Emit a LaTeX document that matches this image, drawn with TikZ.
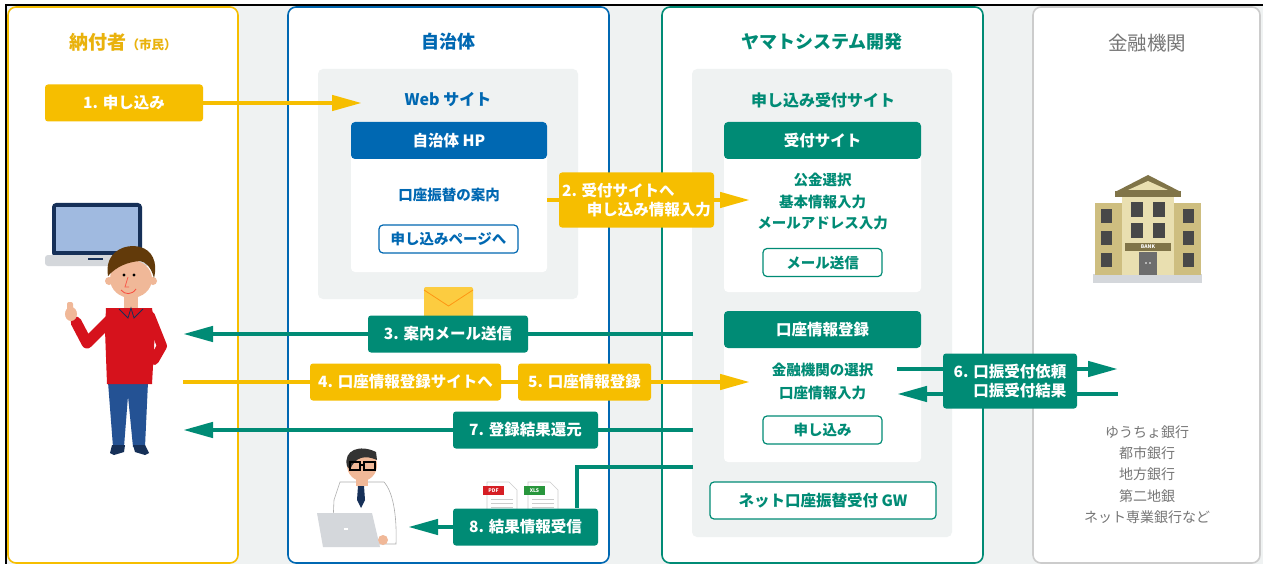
\documentclass[tikz,border=0pt]{standalone}
\usepackage{fontspec}
\setmainfont{Noto Sans CJK JP}
\usetikzlibrary{arrows.meta}

\definecolor{cyellow}{RGB}{246,190,0}
\definecolor{cyeltext}{RGB}{233,178,12}
\definecolor{cblue}{RGB}{0,104,178}
\definecolor{cgreen}{RGB}{0,139,117}
\definecolor{cpanel}{RGB}{239,242,242}
\definecolor{cgrey}{RGB}{118,118,118}
\definecolor{cline}{RGB}{204,204,204}
\definecolor{skin}{RGB}{240,184,152}
\definecolor{hair}{RGB}{98,58,10}
\definecolor{shirt}{RGB}{214,18,28}
\definecolor{jeans}{RGB}{36,82,148}
\definecolor{navy}{RGB}{22,48,88}
\definecolor{screen}{RGB}{160,186,224}
\definecolor{silver}{RGB}{212,215,219}
\definecolor{olive}{RGB}{128,116,72}
\definecolor{cream}{RGB}{233,223,176}
\definecolor{tan}{RGB}{206,190,128}
\definecolor{window}{RGB}{72,72,72}
\definecolor{pdfred}{RGB}{214,30,36}
\definecolor{xlsgreen}{RGB}{40,150,60}
\definecolor{mailyel}{RGB}{252,204,64}

\newcommand{\fsz}[2]{\fontsize{#1}{#2}\selectfont}

\tikzset{
  lane/.style={fill=white, rounded corners=8pt, line width=1.6pt},
  panel/.style={fill=cpanel, rounded corners=5pt},
  coltitle/.style={font=\bfseries\fsz{18}{22}},
  card/.style={fill=white, rounded corners=4pt, inner sep=0pt},
  cardhead/.style={text=white, font=\bfseries\fsz{15.5}{19}, inner sep=0pt, minimum height=37pt, rounded corners=4pt, anchor=north},
  itemtext/.style={font=\bfseries\fsz{14.5}{21.5}, align=center},
  btn/.style={fill=white, rounded corners=4pt, line width=1.2pt, font=\bfseries\fsz{14.5}{18}, inner sep=0pt, minimum height=28pt},
  ybox/.style={fill=cyellow, text=white, rounded corners=3pt, font=\bfseries\fsz{15.5}{19}, inner sep=0pt, minimum height=37pt},
  gbox/.style={ybox, fill=cgreen},
  yflow/.style={draw=cyellow, line width=4.5pt},
  gflow/.style={draw=cgreen, line width=4.5pt},
  arr/.style={-{Triangle[length=30pt,width=15pt]}},
}

\begin{document}
\begin{tikzpicture}[x=1pt,y=-1pt]
\useasboundingbox (0,0) rectangle (1263,564);
\fill[white] (0,0) rectangle (1263,564);
\fill[cpanel] (6,5) rectangle (1263,564);
\draw[black, line width=1.5pt] (6,564) -- (6,5) -- (1263,5);

% the four lanes
\draw[lane, draw=cyellow] (8,7) rectangle (238,563);
\draw[lane, draw=cblue] (288,7) rectangle (609,563);
\draw[lane, draw=cgreen] (662,7) rectangle (983,563);
\draw[lane, draw=cline] (1033,7) rectangle (1260,563);

\node[coltitle, text=cyeltext, font=\bfseries\fsz{19}{22}] (tcitizen) at (123,42) {納付者{\fsz{12.5}{14}（市民）}};
\node[coltitle, text=cblue] (tcity) at (448,42) {自治体};
\node[coltitle, text=cgreen] (tyamato) at (822,42) {ヤマトシステム開発};
\node[font=\fsz{19.5}{22}, text=cgrey] (tbank) at (1147,43) {金融機関};

% web site of the city
\path[panel] (318,69) rectangle (578,299);
\node[font=\bfseries\fsz{16}{20}, text=cblue] (website) at (448,99) {Web サイト};
\node[card, minimum width=196pt, minimum height=150pt] (hp) at (449,197) {};
\node[cardhead, fill=cblue, minimum width=196pt] (hphead) at (hp.north) {自治体 HP};
\node[itemtext, text=cblue] (guide) at (449,195) {口座振替の案内};
\node[btn, draw=cblue, text=cblue, minimum width=139pt] (hpbtn) at (448.5,239) {申し込みページへ};

% application site
\path[panel] (692,69) rectangle (952,537);
\node[font=\bfseries\fsz{16}{20}, text=cgreen] (apply) at (823,100) {申し込み受付サイト};
\node[card, minimum width=197pt, minimum height=170pt] (recv) at (822.5,207) {};
\node[cardhead, fill=cgreen, minimum width=197pt] (recvhead) at (recv.north) {受付サイト};
\node[itemtext, text=cgreen] (recvitems) at (822.5,202) {公金選択\\基本情報入力\\メールアドレス入力};
\node[btn, draw=cgreen, text=cgreen, minimum width=119pt] (mailbtn) at (822.5,262.5) {メール送信};
\node[card, minimum width=197pt, minimum height=151pt] (acct) at (822.5,386.5) {};
\node[cardhead, fill=cgreen, minimum width=197pt] (accthead) at (acct.north) {口座情報登録};
\node[itemtext, text=cgreen, font=\bfseries\fsz{14.5}{23}] (acctitems) at (822.5,381.5) {金融機関の選択\\口座情報入力};
\node[btn, draw=cgreen, text=cgreen, minimum width=119pt] (applybtn) at (822.5,430) {申し込み};
\node[btn, draw=cgreen, text=cgreen, minimum width=226pt, minimum height=37pt, font=\bfseries\fsz{15.5}{19}] (gw) at (823,500.5) {ネット口座振替受付 GW};

% banks
\node[font=\fsz{14}{21.2}, text=cgrey, align=center] (banks) at (1147,474.5) {ゆうちょ銀行\\都市銀行\\地方銀行\\第二地銀\\ネット専業銀行など};

% citizen with laptop
\fill[navy, rounded corners=4pt] (52,203) rectangle (142,257);
\fill[screen] (56,207) rectangle (138,251);
\fill[silver, rounded corners=3pt] (45,255) rectangle (150,266);
\fill[navy] (88,258) rectangle (103,260);
\fill[jeans] (108,382) -- (148,382) -- (145,447) -- (133,447) -- (128,396) -- (124,447) -- (113,447) -- cycle;
\fill[navy] (112,445) -- (125,445) -- (124,452) -- (114,455) -- (110,453) -- cycle;
\fill[navy] (133,445) -- (145,445) -- (149,453) -- (145,455) -- (135,452) -- cycle;
\draw[shirt, line width=11pt, line cap=round, line join=round] (114,316) -- (87,343) -- (76,322);
\draw[shirt, line width=10pt, line cap=round, line join=round] (150,316) -- (162,346) -- (154,360);
\fill[shirt] (106,308) -- (152,308) -- (155,330) -- (152,384) -- (107,384) -- (105,330) -- cycle;
\fill[skin] (71,314) ellipse (6pt and 7pt);
\fill[skin, rounded corners=2pt] (67,302) rectangle (73,312);
\fill[skin] (124,292) rectangle (138,308);
\fill[skin] (109,281) circle (4pt);
\fill[skin] (153,281) circle (4pt);
\fill[skin] (131,279) ellipse (21pt and 19pt);
\fill[hair] (108,276) .. controls (104,252) and (125,243) .. (140,247) .. controls (152,250) and (158,262) .. (154,278) .. controls (151,267) and (146,262) .. (140,261) .. controls (128,262) and (117,266) .. (108,276) -- cycle;
\fill[black] (124,275) circle (1.6pt);
\fill[black] (134,275) circle (1.6pt);
\draw[red!50!skin, line width=0.8pt] (128,277) -- (125,287) -- (129,287);
\draw[red!60!skin, line width=0.8pt] (121,290) .. controls (125,295) and (132,295) .. (136,289);
\draw[navy, line width=0.8pt] (119,309) -- (128,318) -- (131,308) -- (134,318) -- (143,309);

% clerk at laptop
\fill[white, draw=cgrey!60, line width=0.6pt] (340,482) -- (384,482) .. controls (393,492) and (397,515) .. (396,544) -- (332,544) -- (334,500) -- cycle;
\fill[skin] (356,476) rectangle (368,486);
\fill[navy] (358,486) -- (364,486) -- (365,500) -- (361,508) -- (357,500) -- cycle;
\fill[skin] (362,465) ellipse (15pt and 16pt);
\fill[black!80] (347,466) .. controls (343,450) and (360,444) .. (376,452) -- (377,460) .. controls (366,455) and (355,456) .. (350,470) -- cycle;
\draw[black, line width=1.2pt] (350,462) rectangle (360,470) (364,462) rectangle (375,470) (360,465) -- (364,465);
\fill[silver] (317,513) -- (372,513) -- (380,547) -- (323,547) -- cycle;
\fill[white] (344,528) rectangle (348,530);
\fill[skin] (383,540) circle (5pt);

% bank building
\fill[silver] (1093,274) rectangle (1202,283);
\fill[tan] (1095,203) rectangle (1122,275);
\fill[tan] (1174,203) rectangle (1201,275);
\fill[cream] (1122,196) rectangle (1174,275);
\fill[olive] (1148,175) -- (1181,192) -- (1115,192) -- cycle;
\fill[cream] (1148,181) -- (1168,190) -- (1128,190) -- cycle;
\fill[olive] (1115,191) rectangle (1181,197);
\foreach \x in {1101,1183} \foreach \y in {209,231,253}
  \fill[window] (\x,\y) rectangle ++(11,14);
\foreach \x in {1131,1153} \foreach \y in {202,223}
  \fill[window] (\x,\y) rectangle ++(12,15);
\fill[olive] (1125,243) rectangle (1171,251);
\node[font=\bfseries\fsz{5}{6}, text=white, inner sep=0pt] (banksign) at (1148,247) {BANK};
\fill[window!80] (1139,252) rectangle (1157,275);
\fill[white] (1146,263) circle (0.8pt) (1150,263) circle (0.8pt);

% mail and result files
\fill[mailyel, rounded corners=2pt] (424,287) rectangle (473,321);
\draw[orange!70!mailyel, line width=0.8pt] (424,290) -- (448.5,306) -- (473,290);
\foreach \x/\c/\t in {487/pdfred/PDF, 528/xlsgreen/XLS} {
  \fill[white, draw=cline, line width=0.6pt] (\x,482) -- (\x+22,482) -- (\x+30,490) -- (\x+30,513) -- (\x,513) -- cycle;
  \foreach \y in {499,503,507} \draw[cline, line width=0.6pt] (\x+4,\y) -- (\x+26,\y);
  \fill[\c] (\x-4,486) rectangle (\x+17,495);
  \node[font=\bfseries\fsz{5}{6}, text=white, inner sep=0pt] at (\x+6.5,490.5) {\t};
}

% flow boxes
\node[ybox, minimum width=158pt] (b1) at (124,103) {1. 申し込み};
\node[ybox, minimum width=155pt, minimum height=55pt, align=left] (b2) at (636.5,200) {2. 受付サイトへ\\\hspace*{1.6em}申し込み情報入力};
\node[gbox, minimum width=160pt] (b3) at (448,334) {3. 案内メール送信};
\node[ybox, minimum width=191pt] (b4) at (405.5,382) {4. 口座情報登録サイトへ};
\node[ybox, minimum width=133pt] (b5) at (584.5,382) {5. 口座情報登録};
\node[gbox, minimum width=134pt, minimum height=55pt, align=right] (b6) at (1010,381) {6. 口振受付依頼\\口振受付結果};
\node[gbox, minimum width=145pt] (b7) at (525.5,430) {7. 登録結果還元};
\node[gbox, minimum width=145pt] (b8) at (525.5,527) {8. 結果情報受信};

\coordinate (t1) at (362,103);
\coordinate (t2) at (750,200);
\coordinate (s3) at (693,334);
\coordinate (t3) at (183,334);
\coordinate (s4) at (183,382);
\coordinate (t5) at (750,382);
\coordinate (s6a) at (897,369);
\coordinate (t6a) at (1118,369);
\coordinate (s6b) at (1118,394);
\coordinate (t6b) at (897,394);
\coordinate (s7) at (693,430);
\coordinate (t7) at (183,430);
\coordinate (s8) at (693,467);
\coordinate (t8) at (408,527);

% connectors
\draw[yflow, arr] (b1) -- (t1);
\draw[yflow] (b2.west -| hp.east) -- (b2.west);
\draw[yflow, arr] (b2) -- (t2);
\draw[gflow] (s3) -- (b3);
\draw[gflow, arr] (b3) -- (t3);
\draw[yflow] (s4) -- (b4);
\draw[yflow] (b4) -- (b5);
\draw[yflow, arr] (b5) -- (t5);
\draw[gflow] (s6a) -- (s6a -| b6.west);
\draw[gflow, arr] (s6a -| b6.east) -- (t6a);
\draw[gflow] (s6b) -- (s6b -| b6.east);
\draw[gflow, arr] (s6b -| b6.west) -- (t6b);
\draw[gflow] (s7) -- (b7);
\draw[gflow, arr] (b7) -- (t7);
\draw[gflow] (s8) -| ([xshift=51.5pt]b8.north);
\draw[gflow, arr] (b8) -- (t8);
\end{tikzpicture}
\end{document}
